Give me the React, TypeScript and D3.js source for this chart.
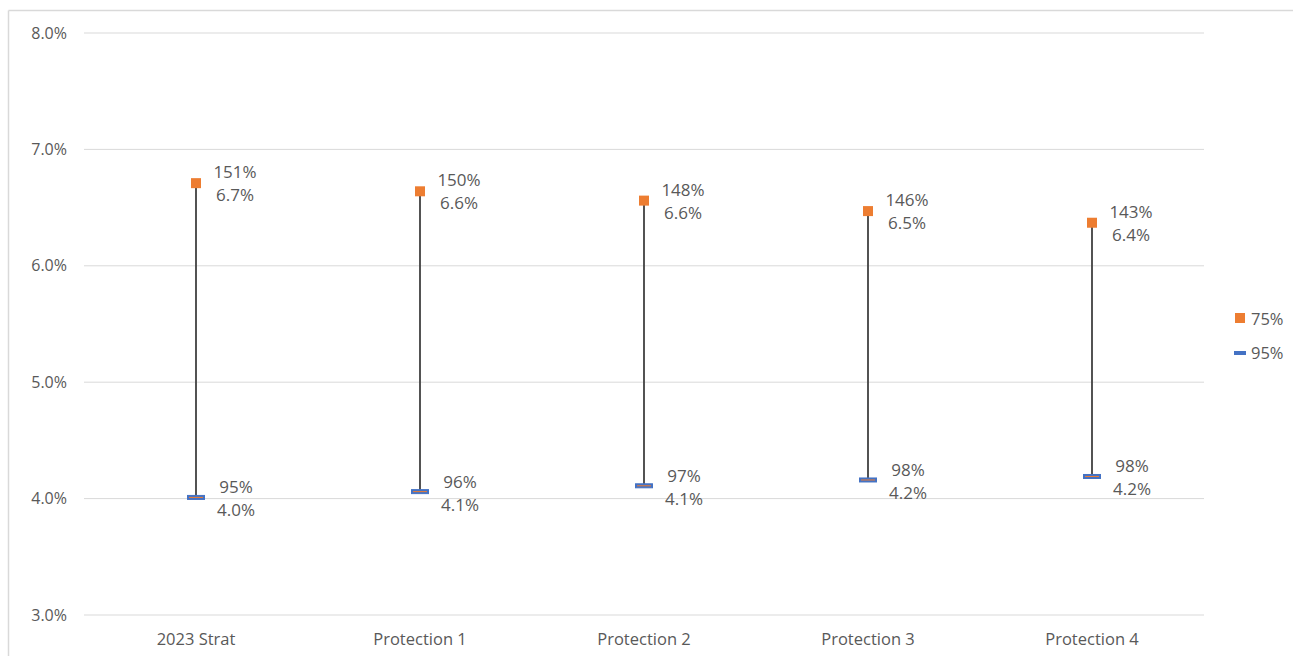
import React from "react";
import * as d3 from "d3";

const categories = ["2023 Strat", "Protection 1", "Protection 2", "Protection 3", "Protection 4"];
const high75 = [6.71, 6.64, 6.56, 6.47, 6.37];
const low95 = [4.01, 4.06, 4.11, 4.16, 4.19];
const highPctLabels = ["151%", "150%", "148%", "146%", "143%"];
const highValLabels = ["6.7%", "6.6%", "6.6%", "6.5%", "6.4%"];
const lowPctLabels = ["95%", "96%", "97%", "98%", "98%"];
const lowValLabels = ["4.0%", "4.1%", "4.1%", "4.2%", "4.2%"];
const yTicks = [3, 4, 5, 6, 7, 8];
const legendLabels = ["75%", "95%"];

const W = 1293;
const H = 656;
const font = "'Open Sans', 'Segoe UI', sans-serif";
const textColor = "#595959";
const orange = "#ED7D31";
const blue = "#4472C4";

export default function App() {
  const x = d3.scaleBand<string>().domain(categories).range([84, 1204]);
  const y = d3.scaleLinear().domain([3, 8]).range([615, 33]);
  const cx = (c: string) => (x(c) as number) + x.bandwidth() / 2;

  return (
    <svg width={W} height={H} style={{ position: "absolute", left: 0, top: 0, background: "#fff" }}>
      <rect x={0} y={0} width={W} height={H} fill="#fff" />
      {/* chart border */}
      <line x1={8.5} y1={10.5} x2={W} y2={10.5} stroke="#d9d9d9" strokeWidth={1.5} />
      <line x1={8.5} y1={10.5} x2={8.5} y2={H} stroke="#d9d9d9" strokeWidth={1.5} />
      {/* grid */}
      {yTicks.map((t) => (
        <g key={t}>
          <line x1={84} x2={1204} y1={y(t)} y2={y(t)} stroke="#d9d9d9" strokeWidth={1} />
          <text x={67} y={y(t)} dy="0.35em" textAnchor="end" fontFamily={font} fontSize={16} fill={textColor}>
            {d3.format(".1f")(t) + "%"}
          </text>
        </g>
      ))}
      {/* x labels */}
      {categories.map((c) => (
        <text key={c} x={cx(c)} y={639} dy="0.35em" textAnchor="middle" fontFamily={font} fontSize={16.5} fill={textColor}>
          {c}
        </text>
      ))}
      {/* high-low lines & markers */}
      {categories.map((c, i) => {
        const px = cx(c);
        const yh = y(high75[i]);
        const yl = y(low95[i]);
        return (
          <g key={c}>
            <line x1={px} x2={px} y1={yh} y2={yl} stroke="#404040" strokeWidth={1.8} />
            <rect x={px - 5} y={yh - 5} width={10} height={10} fill={orange} />
            <rect x={px - 8.5} y={yl - 2} width={17} height={4} fill={blue} stroke={blue} strokeWidth={1} />
            <line x1={px - 7} x2={px + 7} y1={yl} y2={yl} stroke={orange} strokeWidth={1} />
            <text x={px + 39} y={yh - 11} dy="0.35em" textAnchor="middle" fontFamily={font} fontSize={17} fill={textColor}>
              {highPctLabels[i]}
            </text>
            <text x={px + 39} y={yh + 12} dy="0.35em" textAnchor="middle" fontFamily={font} fontSize={17} fill={textColor}>
              {highValLabels[i]}
            </text>
            <text x={px + 40} y={yl - 10} dy="0.35em" textAnchor="middle" fontFamily={font} fontSize={17} fill={textColor}>
              {lowPctLabels[i]}
            </text>
            <text x={px + 40} y={yl + 13} dy="0.35em" textAnchor="middle" fontFamily={font} fontSize={17} fill={textColor}>
              {lowValLabels[i]}
            </text>
          </g>
        );
      })}
      {/* legend */}
      <rect x={1235} y={313} width={10} height={10} fill={orange} />
      <text x={1251} y={319} dy="0.35em" fontFamily={font} fontSize={16.5} fill={textColor}>{legendLabels[0]}</text>
      <rect x={1234} y={351} width={12} height={4} fill={blue} />
      <text x={1251} y={353} dy="0.35em" fontFamily={font} fontSize={16.5} fill={textColor}>{legendLabels[1]}</text>
    </svg>
  );
}
